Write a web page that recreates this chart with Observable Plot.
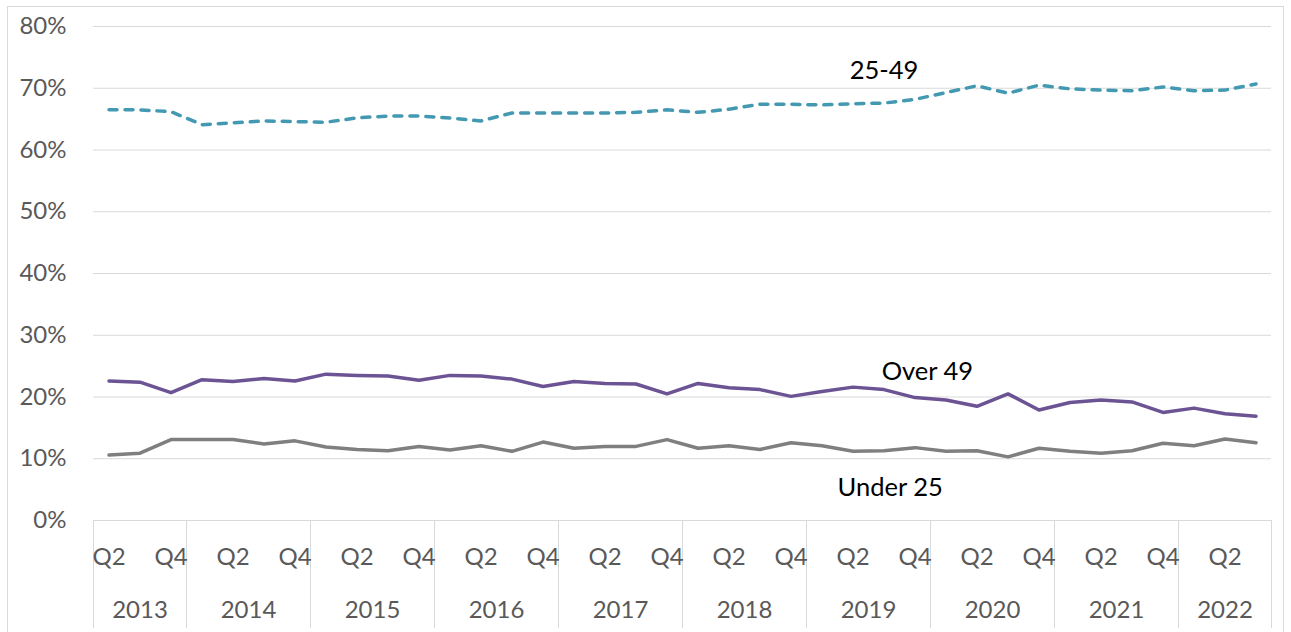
<!DOCTYPE html>
<html><head><meta charset="utf-8">
<script src="https://cdn.jsdelivr.net/npm/d3@7"></script>
<script src="https://cdn.jsdelivr.net/npm/@observablehq/plot@0.6"></script>
<style>
body{margin:0;background:#fff;}
#wrap{position:relative;width:1291px;height:632px;overflow:hidden;}
#border{position:absolute;left:7px;top:6px;width:1275px;height:640px;border:1px solid #d9d9d9;pointer-events:none;}
#chart svg{display:block;}
</style></head><body>
<div id="wrap"><div id="chart"></div><div id="border"></div></div>
<script>
// Quarterly periods (category axis)
const periods = [
  "2013 Q2","2013 Q3","2013 Q4",
  "2014 Q1","2014 Q2","2014 Q3","2014 Q4",
  "2015 Q1","2015 Q2","2015 Q3","2015 Q4",
  "2016 Q1","2016 Q2","2016 Q3","2016 Q4",
  "2017 Q1","2017 Q2","2017 Q3","2017 Q4",
  "2018 Q1","2018 Q2","2018 Q3","2018 Q4",
  "2019 Q1","2019 Q2","2019 Q3","2019 Q4",
  "2020 Q1","2020 Q2","2020 Q3","2020 Q4",
  "2021 Q1","2021 Q2","2021 Q3","2021 Q4",
  "2022 Q1","2022 Q2","2022 Q3"
];
const shownQuarters = ["Q2","Q4"];
const yTicks = [0,0.1,0.2,0.3,0.4,0.5,0.6,0.7,0.8];

// Series values (share of total)
const age25to49 = [66.5,66.5,66.2,64.1,64.4,64.7,64.6,64.5,65.2,65.5,65.5,65.2,64.7,
  66.0,66.0,66.0,66.0,66.1,66.5,66.1,66.6,67.4,67.4,67.3,67.5,
  67.6,68.2,69.3,70.4,69.2,70.5,69.9,69.7,69.6,70.2,69.6,69.7,70.7];
const over49 = [22.6,22.4,20.7,22.8,22.5,23.0,22.6,23.7,23.5,23.4,22.7,23.5,23.4,
  22.9,21.7,22.5,22.2,22.1,20.5,22.2,21.5,21.2,20.1,20.9,21.6,
  21.2,19.9,19.5,18.5,20.5,17.9,19.1,19.5,19.2,17.5,18.2,17.3,16.9];
const under25 = [10.6,10.9,13.1,13.1,13.1,12.4,12.9,11.9,11.5,11.3,12.0,11.4,12.1,
  11.2,12.7,11.7,12.0,12.0,13.1,11.7,12.1,11.5,12.6,12.1,11.2,
  11.3,11.8,11.2,11.3,10.3,11.7,11.2,10.9,11.3,12.5,12.1,13.2,12.6];

// Direct labels (position in period index / value)
const labelText = ["25-49","Over 49","Under 25"];
const labelX = [25.0, 26.4, 25.2];
const labelY = [0.729, 0.241, 0.053];

const colors = {"25-49":"#4399b1","Over 49":"#6b5394","Under 25":"#7f7f7f"};

const rows = [];
periods.forEach((p,i)=>{
  rows.push({i, series:"25-49", v:age25to49[i]/100});
  rows.push({i, series:"Over 49", v:over49[i]/100});
  rows.push({i, series:"Under 25", v:under25[i]/100});
});
const yearOf = p => p.split(" ")[0];
const qOf = p => p.split(" ")[1];
const qTickIdx = periods.map((p,i)=>i).filter(i=>shownQuarters.includes(qOf(periods[i])));
const yearList = [...new Set(periods.map(yearOf))];
const yearCenters = yearList.map(y=>{
  const idx = periods.map((p,i)=>i).filter(i=>yearOf(periods[i])===y);
  return (idx[0]-0.5 + idx[idx.length-1]+0.5)/2;
});
const boundaries = [-0.5];
periods.forEach((p,i)=>{ if (i>0 && yearOf(p)!==yearOf(periods[i-1])) boundaries.push(i-0.5); });
boundaries.push(periods.length-0.5);
const labels = labelText.map((t,j)=>({t, x:labelX[j], y:labelY[j]}));

const font = "Lato, 'Open Sans', sans-serif";
const chart = Plot.plot({
  width: 1291, height: 632,
  marginLeft: 93, marginRight: 20, marginTop: 26, marginBottom: 112,
  style: {fontFamily: font, background: "#fff"},
  x: {type: "linear", domain: [-0.5, periods.length-0.5], axis: null},
  y: {domain: [0, 0.8], axis: null},
  marks: [
    Plot.gridY(yTicks.filter(d=>d>0), {stroke:"#d9d9d9", strokeOpacity:1, strokeWidth:1}),
    Plot.ruleY([0], {stroke:"#d9d9d9", strokeWidth:1}),
    Plot.axisY({ticks: yTicks, tickFormat: d3.format(".0%"), tickSize: 0, tickPadding: 27, fontSize: 24, fill:"#595959"}),
    Plot.axisX({ticks: boundaries, tickSize: 108, tickFormat: () => "", stroke:"#d9d9d9", strokeOpacity:1}),
    Plot.axisX({ticks: qTickIdx, tickFormat: i => qOf(periods[i]), tickSize: 0, tickPadding: 27, fontSize: 24, fill:"#595959"}),
    Plot.axisX({ticks: yearCenters, tickFormat: d => yearList[yearCenters.indexOf(d)], tickSize: 0, tickPadding: 80, fontSize: 24, fill:"#595959"}),
    Plot.line(rows.filter(d=>d.series==="Under 25"), {x:"i", y:"v", stroke: colors["Under 25"], strokeWidth:3.5, strokeLinejoin:"round", strokeLinecap:"round"}),
    Plot.line(rows.filter(d=>d.series==="Over 49"), {x:"i", y:"v", stroke: colors["Over 49"], strokeWidth:3.5, strokeLinejoin:"round", strokeLinecap:"round"}),
    Plot.line(rows.filter(d=>d.series==="25-49"), {x:"i", y:"v", stroke: colors["25-49"], strokeWidth:3.5, strokeDasharray:"8,8", strokeLinejoin:"round", strokeLinecap:"round"}),
    Plot.text(labels, {x:"x", y:"y", text:"t", fontSize: 25.5, fill:"#000"})
  ]
});
document.getElementById("chart").appendChild(chart);
</script>
</body></html>
